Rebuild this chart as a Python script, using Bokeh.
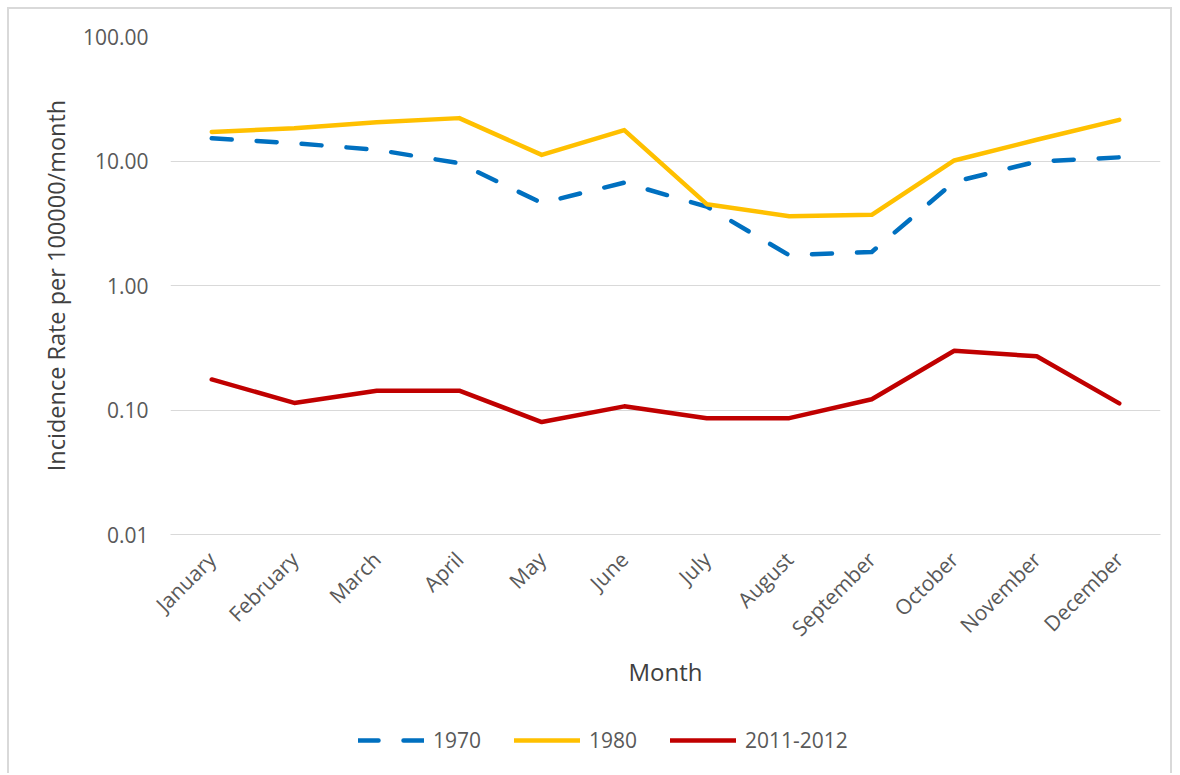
import math
from bokeh.plotting import figure
from bokeh.layouts import column
from bokeh.models import (FactorRange, Range1d, FixedTicker, PrintfTickFormatter,
                          Legend, LegendItem)
from bokeh.embed import file_html
from bokeh.resources import INLINE

months = ["January", "February", "March", "April", "May", "June", "July",
          "August", "September", "October", "November", "December"]
rate_1970 = [15.2, 13.9, 12.3, 9.6, 4.6, 6.7, 4.3, 1.75, 1.86, 6.8, 9.9, 10.7]
rate_1980 = [17.1, 18.3, 20.5, 22.1, 11.2, 17.7, 4.5, 3.6, 3.7, 10.1, 14.8, 21.4]
rate_2011_2012 = [0.176, 0.114, 0.143, 0.143, 0.080, 0.107, 0.086, 0.086, 0.122, 0.299, 0.270, 0.113]
series_names = ["1970", "1980", "2011-2012"]
series_colors = ["#0070C0", "#FFC000", "#C00000"]
series_dashes = ["20 25", "solid", "solid"]
y_ticks = [0.01, 0.1, 1, 10, 100]

FONT = "Open Sans"
LINE_W = 4.5

p = figure(x_range=FactorRange(factors=months), y_range=Range1d(0.01, 100),
           y_axis_type="log", frame_width=990, frame_height=498,
           min_border_left=161, min_border_right=10, min_border_top=27,
           min_border_bottom=175, output_backend="svg", toolbar_location=None)
p.outline_line_color = None
p.background_fill_color = "white"
p.border_fill_color = "white"

# Y axis
p.yaxis.ticker = FixedTicker(ticks=y_ticks)
p.yaxis.formatter = PrintfTickFormatter(format="%.2f")
p.yaxis.major_label_text_font = FONT
p.yaxis.major_label_text_font_size = "21px"
p.yaxis.major_label_text_color = "#595959"
p.yaxis.major_tick_line_color = None
p.yaxis.minor_tick_line_color = None
p.yaxis.major_tick_out = 0
p.yaxis.major_tick_in = 0
p.yaxis.minor_tick_out = 0
p.yaxis.minor_tick_in = 0
p.yaxis.axis_line_color = None
p.yaxis.major_label_standoff = 22
p.yaxis.axis_label = "Incidence Rate per 100000/month"
p.yaxis.axis_label_text_font = FONT
p.yaxis.axis_label_text_font_size = "23.5px"
p.yaxis.axis_label_text_font_style = "normal"
p.yaxis.axis_label_text_color = "#404040"
p.yaxis.axis_label_standoff = 8

# X axis
p.xaxis.major_label_orientation = math.pi / 4
p.xaxis.major_label_text_font = FONT
p.xaxis.major_label_text_font_size = "21px"
p.xaxis.major_label_text_color = "#595959"
p.xaxis.major_tick_line_color = None
p.xaxis.major_tick_out = 0
p.xaxis.major_tick_in = 0
p.xaxis.axis_line_color = "#D9D9D9"
p.xaxis.major_label_standoff = 21
p.xaxis.axis_label = "Month"
p.xaxis.axis_label_text_font = FONT
p.xaxis.axis_label_text_font_size = "24px"
p.xaxis.axis_label_text_font_style = "normal"
p.xaxis.axis_label_text_color = "#404040"
p.xaxis.axis_label_standoff = 0

# Grid
p.xgrid.grid_line_color = None
p.ygrid.ticker = FixedTicker(ticks=y_ticks)
p.ygrid.grid_line_color = "#D9D9D9"
p.ygrid.grid_line_width = 1
p.ygrid.minor_grid_line_color = None

for vals, color, dash in zip([rate_1970, rate_1980, rate_2011_2012], series_colors, series_dashes):
    p.line(months, vals, line_color=color, line_width=LINE_W, line_dash=dash,
           line_cap="round", line_join="round")

# Legend strip below the chart (its glyphs sit outside the visible range)
q = figure(width=1161, height=64, x_range=Range1d(0, 1), y_range=Range1d(0, 1),
           x_axis_type=None, y_axis_type=None, min_border=0,
           output_backend="svg", toolbar_location=None)
q.outline_line_color = None
q.background_fill_color = "white"
q.border_fill_color = "white"
legend_renderers = []
for color, dash in zip(series_colors, series_dashes):
    r = q.line(x=[5, 6], y=[5, 6], line_color=color, line_width=LINE_W, line_dash=dash,
               line_cap="round", line_join="round")
    legend_renderers.append(r)

legend = Legend(items=[LegendItem(label=n, renderers=[r]) for n, r in zip(series_names, legend_renderers)],
                orientation="horizontal", location=(188, 19),
                glyph_width=66, glyph_height=20, label_height=20, label_standoff=9,
                spacing=33, padding=0, margin=0, border_line_color=None,
                background_fill_alpha=0, label_text_font=FONT,
                label_text_font_size="21px", label_text_color="#595959")
q.add_layout(legend, "center")

layout = column(p, q, spacing=0)
layout.styles = {"margin": "7px 0 0 7px",
                 "border-top": "2px solid #D9D9D9",
                 "border-left": "2px solid #D9D9D9",
                 "border-right": "2px solid #D9D9D9"}

open("out.html", "w").write(file_html(layout, INLINE))
